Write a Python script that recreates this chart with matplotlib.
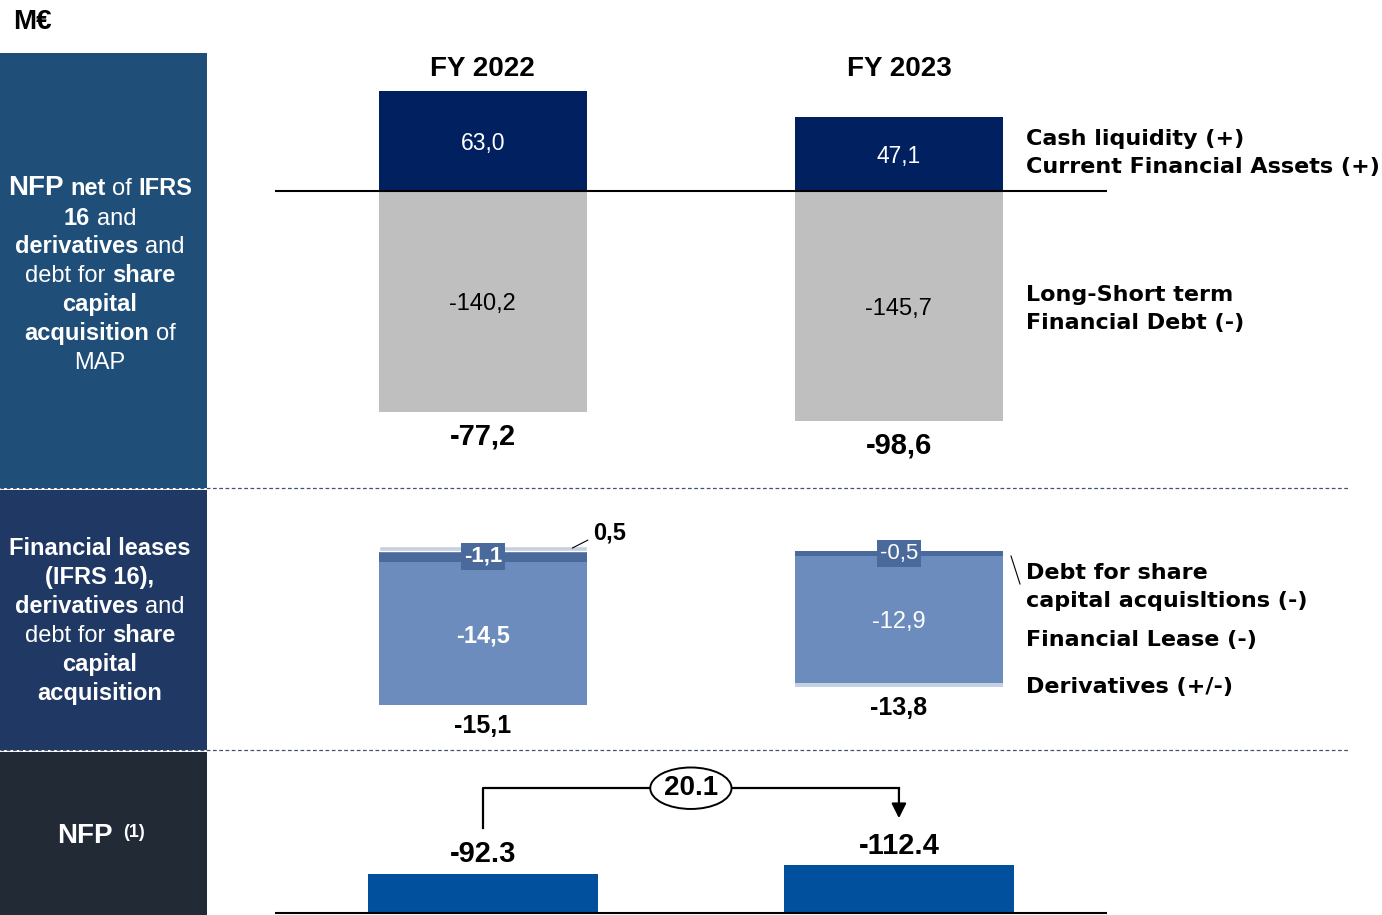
import matplotlib
matplotlib.use('Agg')
import matplotlib.pyplot as plt
from matplotlib.patches import Rectangle

plt.rcParams['font.family'] = ['Liberation Sans', 'DejaVu Sans']

W, H = 1382, 915   # dimensioni in pixel (dpi 100)

# --- dati (M€) ---
anni = ['FY 2022', 'FY 2023']
cassa = [63.0, 47.1]                 # Cash liquidity + Current Financial Assets
debito_fin = [-140.2, -145.7]        # Long-Short term Financial Debt
pfn_netta = [-77.2, -98.6]           # NFP net of IFRS 16 ...
debito_quote = [-1.1, -0.5]          # Debt for share capital acquisitions
leasing = [-14.5, -12.9]             # Financial Lease
derivati = [0.5, -0.4]               # Derivatives
totale_leasing = [-15.1, -13.8]
pfn = [-92.3, -112.4]                # NFP

COL_CASSA = '#002060'
COL_DEBITO = '#BFBFBF'
COL_QUOTE = '#4A6A9C'
COL_LEASING = '#6B8CBC'
COL_DERIVATI = '#C5D0E2'
COL_PFN = '#00509E'


def virgola(v):
    return f"{v:.1f}".replace('.', ',')


def crea_asse(y_alto, y_basso, ylim):
    """Asse per un pannello, definito dalle righe in pixel dell'immagine."""
    ax = fig.add_axes([207 / W, 1 - y_basso / H, (W - 207) / W, (y_basso - y_alto) / H])
    ax.set_xlim(-0.663, 2.161)
    ax.set_ylim(*ylim)
    ax.axis('off')
    return ax


def riga_mista(ax, xc, y, parti, colore='white', spazio=None):
    """Scrive una riga centrata con parole in grassetto e normali."""
    r = fig.canvas.get_renderer()
    if spazio is None:
        t1 = ax.text(0, 0, 'a a', fontsize=17)
        t2 = ax.text(0, 0, 'aa', fontsize=17)
        spazio = t1.get_window_extent(r).width - t2.get_window_extent(r).width
        t1.remove()
        t2.remove()
    oggetti = []
    for parte in parti:
        testo, grassetto, dim, *resto = parte
        dy = resto[0] if resto else 0
        t = ax.text(0, y + dy, testo, fontsize=dim, color=colore,
                    fontweight='bold' if grassetto else 'normal', ha='left', va='baseline')
        oggetti.append((t, t.get_window_extent(r).width))
    totale = sum(w for _, w in oggetti) + spazio * (len(oggetti) - 1)
    x = xc - totale / 2
    for t, w in oggetti:
        t.set_x(x)
        x += w + spazio


fig = plt.figure(figsize=(W / 100, H / 100), dpi=100)
x = list(range(len(anni)))

# ---------- pannello 1: NFP netta ----------
ax1 = crea_asse(53, 488, (-188.0, 87.3))
ax1.bar(x, cassa, 0.5, color=COL_CASSA)
ax1.bar(x, debito_fin, 0.5, color=COL_DEBITO)
ax1.hlines(0, -0.5, len(anni) - 0.5, color='black', lw=1.5, zorder=3)
for i in x:
    ax1.text(i, cassa[i] / 2, virgola(cassa[i]), color='white', fontsize=16.5,
             ha='center', va='center_baseline')
    ax1.text(i, debito_fin[i] / 2, virgola(debito_fin[i]), color='black', fontsize=17,
             ha='center', va='center_baseline')
    ax1.annotate(virgola(pfn_netta[i]), xy=(i, debito_fin[i]), xytext=(0, -23),
                 textcoords='offset points', ha='center', va='baseline',
                 fontsize=21, fontweight='bold')
    ax1.text(i, (488 - 76) / 435, anni[i], transform=ax1.get_xaxis_transform(),
             ha='center', va='baseline', fontsize=20, fontweight='bold')

# ---------- pannello 2: leasing, derivati, debito quote ----------
ax2 = crea_asse(488, 750, (-20.14, 6.38))
serie = [(debito_quote, COL_QUOTE), (leasing, COL_LEASING), (derivati, COL_DERIVATI)]
peso_interno = ['bold', 'normal']
for i in x:
    neg, pos = 0.0, 0.0
    centri = []
    for valori, col in serie:
        v = valori[i]
        if v < 0:
            ax2.bar(i, v, 0.5, bottom=neg, color=col)
            centri.append(neg + v / 2)
            neg += v
        else:
            ax2.bar(i, v, 0.5, bottom=pos, color=col, edgecolor='white', lw=1)
            centri.append(pos + v / 2)
            pos += v
    # debito per quote: etichetta su riquadro scuro
    ax2.text(i, centri[0], virgola(debito_quote[i]), color='white', fontsize=16,
             fontweight=peso_interno[i], ha='center', va='center',
             bbox=dict(boxstyle='square,pad=0.12', fc=COL_QUOTE, ec='none'))
    ax2.text(i, centri[1], virgola(leasing[i]), color='white', fontsize=17,
             fontweight=peso_interno[i], ha='center', va='center_baseline')
    if derivati[i] > 0:
        ax2.annotate(virgola(derivati[i]), xy=(i + 0.215, derivati[i] * 0.6),
                     xytext=(15, 11), textcoords='offset points', ha='left', va='center',
                     fontsize=17, fontweight='bold',
                     arrowprops=dict(arrowstyle='-', lw=0.8, color='black',
                                     relpos=(0, 0.3), shrinkA=2, shrinkB=0))
    ax2.annotate(virgola(totale_leasing[i]), xy=(i, neg), xytext=(0, -15),
                 textcoords='offset points', ha='center', va='center',
                 fontsize=18, fontweight='bold')

# ---------- pannello 3: NFP ----------
ax3 = crea_asse(750, 915, (-4.7, 383.5))
altezze = [abs(v) for v in pfn]
ax3.bar(x, altezze, 0.553, color=COL_PFN)
ax3.hlines(0, -0.5, len(anni) - 0.5, color='black', lw=1.5, zorder=3)
for i in x:
    ax3.annotate(f"{pfn[i]:.1f}", xy=(i, altezze[i]), xytext=(0, 14),
                 textcoords='offset points', ha='center', va='center',
                 fontsize=21, fontweight='bold')

# freccia della variazione
unita = (383.5 + 4.7) / 165          # unità dati per pixel
y_inizio = altezze[0] + 46 * unita
livello = max(altezze) + 77 * unita
y_fine = altezze[1] + 47 * unita
ax3.plot([0, 0, 1], [y_inizio, livello, livello], color='black', lw=1.6)
ax3.annotate('', xy=(1, y_fine), xytext=(1, livello),
             arrowprops=dict(arrowstyle='-|>', lw=1.6, color='black',
                             mutation_scale=22, shrinkA=0, shrinkB=0))
delta = abs(pfn[1] - pfn[0])
ax3.text(0.5, livello, f"{delta:.1f}", ha='center', va='center', fontsize=20,
         fontweight='bold', zorder=4,
         bbox=dict(boxstyle='ellipse,pad=0.06', fc='white', ec='black', lw=1.4))

# ---------- sovrapposizione: pannelli laterali, testi, separatori ----------
ov = fig.add_axes([0, 0, 1, 1])
ov.set_xlim(0, W)
ov.set_ylim(H, 0)
ov.axis('off')

ov.add_patch(Rectangle((0, 53), 207, 435, color='#1F4E79', lw=0))
ov.add_patch(Rectangle((0, 490), 207, 260, color='#203864', lw=0))
ov.add_patch(Rectangle((0, 752), 207, 163, color='#222A35', lw=0))
for y in (488, 750):
    ov.plot([0, 1350], [y, y], color='#44546A', lw=0.9, dashes=(3, 2))

ov.text(13, 29, 'M€', fontsize=20, fontweight='bold', ha='left', va='baseline')

righe_top = [
    [('NFP', 1, 20), ('net', 1, 17), ('of', 0, 17), ('IFRS', 1, 17)],
    [('16', 1, 17), ('and', 0, 17)],
    [('derivatives', 1, 17), ('and', 0, 17)],
    [('debt for', 0, 17), ('share', 1, 17)],
    [('capital', 1, 17)],
    [('acquisition', 1, 17), ('of', 0, 17)],
    [('MAP', 0, 17)],
]
for riga, yb in zip(righe_top, [195, 225, 253, 282, 311, 340, 369]):
    riga_mista(ov, 100, yb, riga)

righe_mid = [
    [('Financial leases', 1, 17)],
    [('(IFRS 16),', 1, 17)],
    [('derivatives', 1, 17), ('and', 0, 17)],
    [('debt for', 0, 17), ('share', 1, 17)],
    [('capital', 1, 17)],
    [('acquisition', 1, 17)],
]
for riga, yb in zip(righe_mid, [555, 584, 613, 642, 671, 700]):
    riga_mista(ov, 100, yb, riga)

riga_mista(ov, 101, 843, [('NFP', 1, 20), ('(1)', 1, 13, -6)], spazio=10)

# etichette a destra (testo "allargato" come nell'originale)
etichette_dx = [
    ('Cash liquidity (+)', 145), ('Current Financial Assets (+)', 173),
    ('Long-Short term', 301), ('Financial Debt (-)', 329),
    ('Debt for share', 579), ('capital acquisltions (-)', 607),
    ('Financial Lease (-)', 646), ('Derivatives (+/-)', 693),
]
for testo, yb in etichette_dx:
    ov.text(1026, yb, testo, fontsize=16, fontweight='bold', family='DejaVu Sans',
            ha='left', va='baseline')
ov.plot([1011, 1020], [556, 584], color='black', lw=0.8)

fig.savefig('out.png', dpi=100)
